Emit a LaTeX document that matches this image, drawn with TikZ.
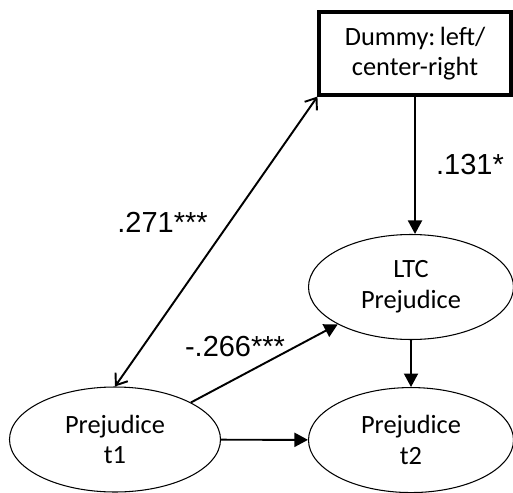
\documentclass[tikz,border=0pt]{standalone}
\usepackage{fontspec}
\setmainfont{Carlito}
\newfontfamily\coeffont{Liberation Sans}
\usetikzlibrary{arrows.meta, positioning, shapes.geometric}

\begin{document}
\begin{tikzpicture}[
  dummybox/.style={draw, line width=1.8pt, minimum width=3.84cm, minimum height=1.66cm, align=center, font=\fontsize{15}{17.5}\selectfont},
  latent/.style={draw, ellipse, line width=0.6pt, inner sep=0pt, minimum width=4.1cm, minimum height=2.1cm, align=center, font=\fontsize{15}{17.5}\selectfont, execute at begin node={\rule{0pt}{17.5pt}}},
  path/.style={-{Triangle[length=0.27cm, width=0.28cm]}, line width=1.1pt},
  corr/.style={{Straight Barb[length=0.2cm, width=0.3cm]}-{Straight Barb[length=0.2cm, width=0.3cm]}, line width=1.1pt},
  coef/.style={font=\coeffont\fontsize{16.5}{18}\selectfont}
]
\useasboundingbox (0,0) rectangle (10.26,9.84);

% Dummy variable
\node[dummybox] (dummy) at (8.3,8.77) {Dummy:\,left/\\center-right};

% Latent variables
\node[latent] (ltc) at (8.22,4.1) {LTC\\Prejudice};
\node[latent, below=0.94cm of ltc] (prejt2) {Prejudice\\t2};
\node[latent, minimum width=4.22cm] (prejt1) at (2.3,1.05) {Prejudice\\t1};

% Paths
\draw[path] (dummy) -- (dummy |- ltc.north);
\draw[path] (ltc) -- (prejt2);
\draw[path] (prejt1) -- (prejt2);
\draw[path] (prejt1.26) -- (ltc.207);

% Correlation
\draw[corr] (dummy.south west) -- (prejt1.north);

% Coefficients
\node[coef] (c131) at (9.4,6.54) {.131*};
\node[coef] (c271) at (3.25,5.4) {.271***};
\node[coef] (c266) at (4.7,2.9) {-.266***};

\end{tikzpicture}
\end{document}
